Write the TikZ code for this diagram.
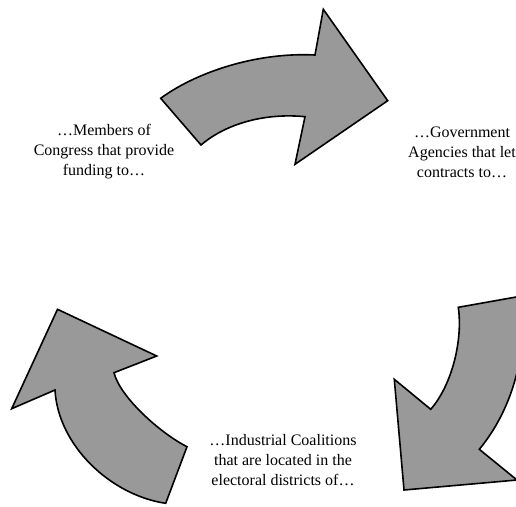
\documentclass[tikz,border=0pt]{standalone}
\usepackage{fontspec}
\setmainfont{Liberation Serif}
\begin{document}
\begin{tikzpicture}[x=1pt,y=-1pt,
  bigarrow/.style={draw=black,line width=1.6pt,line join=miter,fill=black!40},
  lbl/.style={align=center,font=\fontsize{16}{20}\selectfont,inner sep=0pt}]
\useasboundingbox (0,0) rectangle (516,506);
\begin{scope}
\clip (0,0) rectangle (516,506);
% top arrow
\path[bigarrow] (160.7,98.3) .. controls (195,73) and (255,52) .. (315,55)
  -- (323.3,9.3) -- (387.7,100.7) -- (295,164.3) -- (305,116.7)
  .. controls (268,113) and (228,122) .. (201,145) -- cycle;
% right arrow
\path[bigarrow] (458.3,307.3) -- (519,296.5)
  .. controls (530,350) and (512,410) .. (479.3,449.3)
  -- (517,480) -- (404,490) -- (394.3,379.3) -- (430.7,409.3)
  .. controls (452,385) and (463,340) .. cycle;
% left arrow
\path[bigarrow] (57.5,309.3) -- (156.7,356) -- (114,372.7)
  .. controls (120,397) and (160,433) .. (187,446.7)
  -- (165.7,503.3) .. controls (110,495) and (58,445) .. (55,390)
  -- (11.7,408.7) -- cycle;
\end{scope}
\node[lbl] (congress) at (104,152) {\dots Members of\\Congress that provide\\funding to\dots};
\node[lbl] (agencies) at (462,152) {\dots Government\\Agencies that let\\contracts to\dots};
\node[lbl] (industry) at (283,460) {\dots Industrial Coalitions\\that are located in the\\electoral districts of\dots};
\end{tikzpicture}
\end{document}
